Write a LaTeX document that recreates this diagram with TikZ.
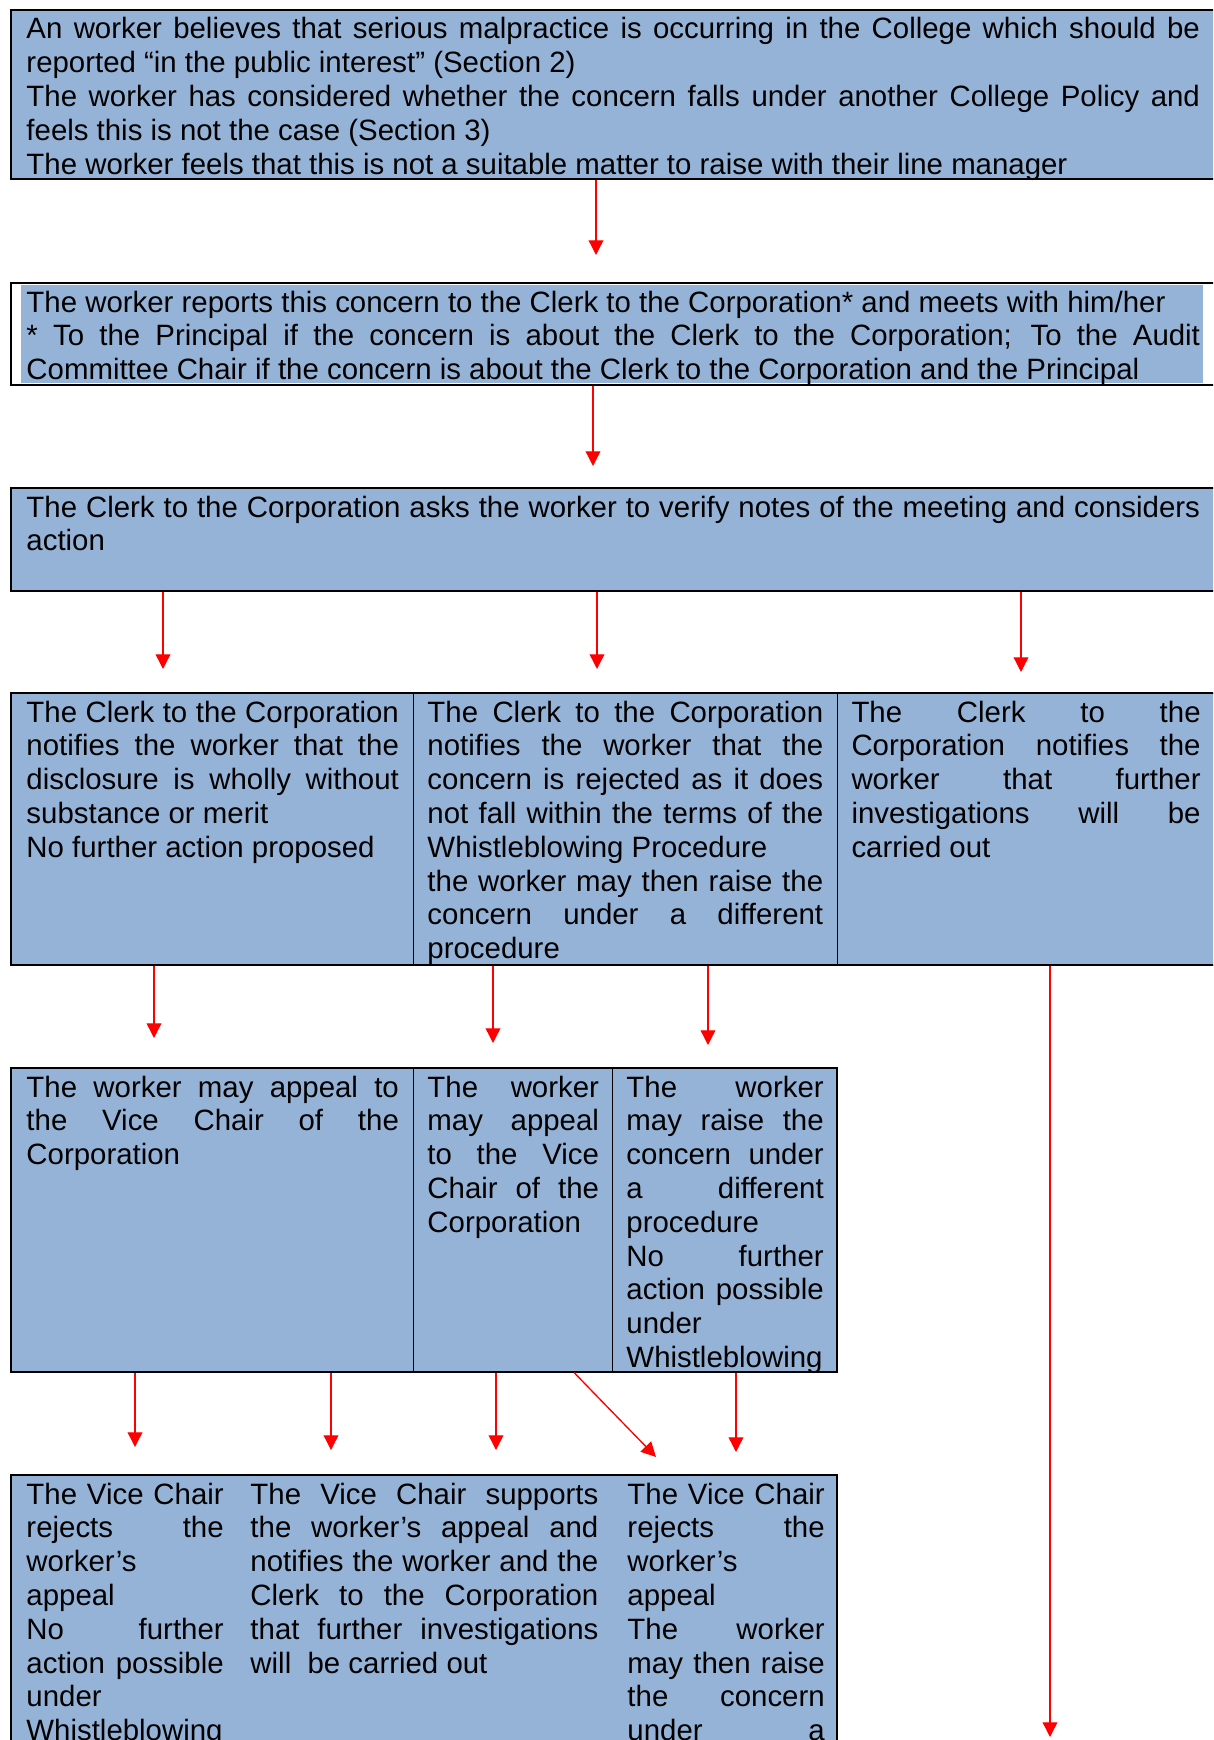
\documentclass[tikz,border=0pt]{standalone}
\usepackage{fontspec}
\setmainfont{Liberation Sans}
\usetikzlibrary{arrows.meta,fit}
\definecolor{cellblue}{RGB}{149,179,215}
\newcommand{\flowfont}{\fontsize{12}{13.8}\selectfont}
\tolerance=10000
\hbadness=10000
\hyphenpenalty=10000
\exhyphenpenalty=10000

\begin{document}
\begin{tikzpicture}[x=0.40816pt,y=-0.40816pt,
  cell/.style={fill=cellblue, draw=black, line width=0.4pt, inner sep=0pt},
  frame/.style={draw=black, line width=0.8pt, inner sep=0pt},
  txt/.style={anchor=base west, inner sep=0pt, text width=#1, align=justify, font=\flowfont},
  arr/.style={-{Triangle[length=6pt,width=6pt]}, red, line width=0.55pt}]
\useasboundingbox (0,0) rectangle (1213,1740);
\clip (0,0) rectangle (1213,1740);

%%% first boxes
\node[cell, frame, fit={(11,10) (1216,179)}] (b1) {};
\node[frame, fill=white, fit={(11,283) (1216,385)}] (b2) {};
\node[fill=cellblue, inner sep=0pt, fit={(21,285) (1203,383)}] (b2fill) {};
\node[cell, frame, fit={(11,488) (1216,591)}] (b3) {};

\node[txt=479pt] (t1) at (26,39) {An worker believes that serious malpractice is occurring in the College which should be\linebreak reported “in the public interest” (Section 2)\\
The worker has considered whether the concern falls under another College Policy and\linebreak feels this is not the case (Section 3)\\
The worker feels that this is not a suitable matter to raise with their line manager};
\node[txt=479pt] (t2) at (26,312) {The worker reports this concern to the Clerk to the Corporation* and meets with him/her\\{}%
* To the Principal if the concern is about the Clerk to the Corporation; To the Audit\linebreak Committee Chair if the concern is about the Clerk to the Corporation and the Principal};
\node[txt=479pt] (t3) at (26,517) {The Clerk to the Corporation asks the worker to verify notes of the meeting and considers\linebreak action};

%%% row of three outcomes
\node[cell, fit={(11,693) (413,965)}] (c41) {};
\node[cell, fit={(413,693) (837,965)}] (c42) {};
\node[cell, fit={(837,693) (1216,965)}] (c43) {};
\node[frame, fit={(11,693) (1216,965)}] (r4) {};

\node[txt=152pt] (t41) at (26,722) {The Clerk to the Corporation\linebreak notifies the worker that the\linebreak disclosure is wholly without\linebreak substance or merit\\
No further action proposed};
\node[txt=161.5pt] (t42) at (427,722) {The Clerk to the Corporation\linebreak notifies the worker that the\linebreak concern is rejected as it does\linebreak not fall within the terms of the\linebreak Whistleblowing Procedure\\
the worker may then raise the\linebreak concern under a different\linebreak procedure};
\node[txt=142.5pt] (t43) at (851,722) {The Clerk to the\linebreak Corporation notifies the\linebreak worker that further\linebreak investigations will be\linebreak carried out};

%%% appeal row
\node[cell, fit={(11,1068) (413,1372)}] (c51) {};
\node[cell, fit={(413,1068) (612,1372)}] (c52) {};
\node[cell, fit={(612,1068) (837,1372)}] (c53) {};
\node[frame, fit={(11,1068) (837,1372)}] (r5) {};

\node[txt=152pt] (t51) at (26,1097) {The worker may appeal to\linebreak the Vice Chair of the\linebreak Corporation};
\node[txt=70pt] (t52) at (427,1097) {The worker\linebreak may appeal\linebreak to the Vice\linebreak Chair of the\linebreak Corporation};
\node[txt=80.5pt] (t53) at (626,1097) {The worker\linebreak may raise the\linebreak concern under\linebreak a different\linebreak procedure\\
No further\linebreak action possible\linebreak under\linebreak Whistleblowing};

%%% Vice Chair row
\node[cell, frame, fit={(11,1475) (837,1760)}] (c6) {};

\node[txt=80.5pt] (t61) at (26,1504) {The Vice Chair\linebreak rejects the\linebreak worker’s\linebreak appeal\\
No further\linebreak action possible\linebreak under\linebreak Whistleblowing};
\node[txt=142pt] (t62) at (250,1504) {The Vice Chair supports\linebreak the worker’s appeal and\linebreak notifies the worker and the\linebreak Clerk to the Corporation\linebreak that further investigations\linebreak will\ \ be carried out};
\node[txt=80.5pt] (t63) at (627,1504) {The Vice Chair\linebreak rejects the\linebreak worker’s\linebreak appeal\\
The worker\linebreak may then raise\linebreak the concern\linebreak under\hfill a};

%%% arrows
\coordinate (a1) at (596,255);
\coordinate (a2) at (593,466);
\coordinate (a31) at (163,669);
\coordinate (a32) at (597,669);
\coordinate (a33) at (1021,672);
\coordinate (a41) at (154,1038);
\coordinate (a42) at (493,1043);
\coordinate (a43) at (708,1045);
\coordinate (a44) at (1050,1737);
\coordinate (a51) at (135,1447);
\coordinate (a52) at (331,1450);
\coordinate (a53) at (496,1450);
\coordinate (a54s) at (574,0);
\coordinate (a54) at (656,1457);
\coordinate (a55) at (736,1452);

\draw[arr] (b1.south -| a1) -- (a1);
\draw[arr] (b2.south -| a2) -- (a2);
\draw[arr] (b3.south -| a31) -- (a31);
\draw[arr] (b3.south -| a32) -- (a32);
\draw[arr] (b3.south -| a33) -- (a33);
\draw[arr] (c41.south -| a41) -- (a41);
\draw[arr] (c42.south -| a42) -- (a42);
\draw[arr] (c42.south -| a43) -- (a43);
\draw[arr] (c43.south -| a44) -- (a44);
\draw[arr] (c51.south -| a51) -- (a51);
\draw[arr] (c51.south -| a52) -- (a52);
\draw[arr] (c52.south -| a53) -- (a53);
\draw[arr] (c52.south -| a54s) -- (a54);
\draw[arr] (c53.south -| a55) -- (a55);

\end{tikzpicture}
\end{document}
